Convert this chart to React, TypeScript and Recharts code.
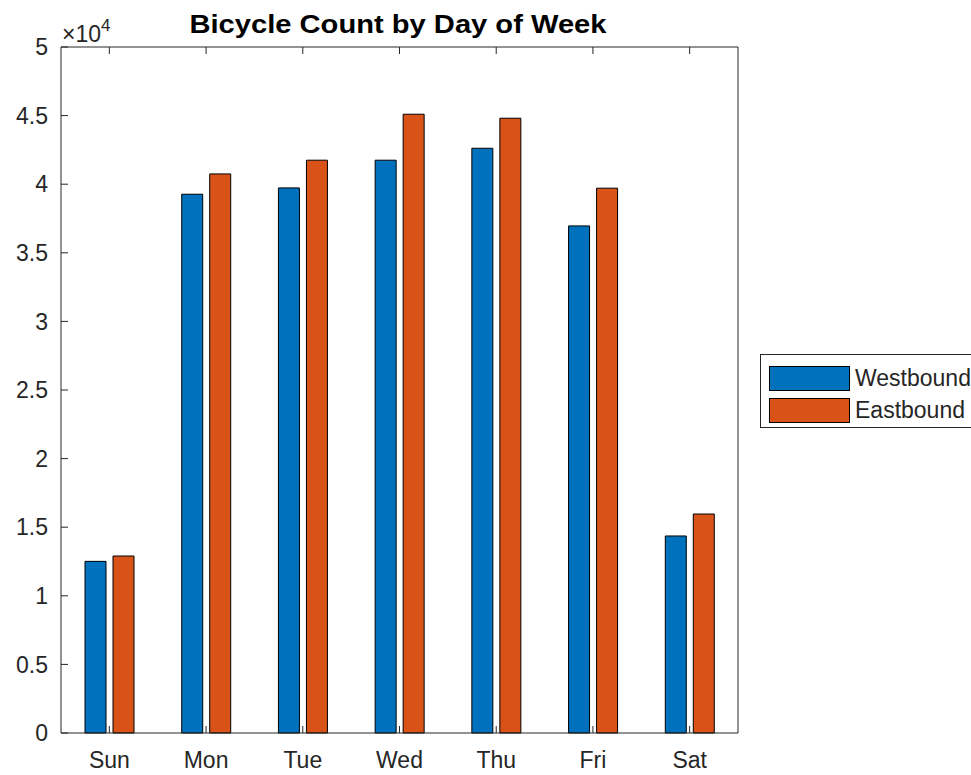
import { Bar, BarChart, XAxis, YAxis, Legend } from "recharts"

const days = ["Sun", "Mon", "Tue", "Wed", "Thu", "Fri", "Sat"]
const westbound = [12510, 39270, 39730, 41750, 42620, 36960, 14360]
const eastbound = [12900, 40750, 41750, 45100, 44810, 39710, 15960]
const seriesNames = ["Westbound", "Eastbound"]
const seriesColors = ["#0072BD", "#D95319"]
const yTicks = [0, 5000, 10000, 15000, 20000, 25000, 30000, 35000, 40000, 45000, 50000]

const AXIS = "#262626"
const FONT = "'Liberation Sans', Arial, Helvetica, sans-serif"

const data = days.map((day, i) => ({
  day,
  Westbound: westbound[i],
  Eastbound: eastbound[i],
}))

function MatlabLegend() {
  return (
    <div
      style={{
        boxSizing: "border-box",
        border: "1px solid #262626",
        background: "#fff",
        padding: "7px 0 0 8px",
        width: 240,
        height: 74,
        fontFamily: FONT,
        fontSize: 23,
        color: "#262626",
      }}
    >
      {seriesNames.map((name, i) => (
        <div key={name} style={{ display: "flex", alignItems: "center", height: 32 }}>
          <span
            style={{
              boxSizing: "border-box",
              display: "inline-block",
              width: 81,
              height: 25,
              background: seriesColors[i],
              border: "1.5px solid #000",
              marginRight: 5,
            }}
          />
          <span style={{ whiteSpace: "nowrap" }}>{name}</span>
        </div>
      ))}
    </div>
  )
}

export default function App() {
  return (
    <div style={{ position: "absolute", left: 0, top: 0, width: 971, height: 775, overflow: "hidden", background: "#fff" }}>
      <BarChart
        width={971}
        height={775}
        data={data}
        margin={{ top: 46, right: 232, bottom: 0, left: 0 }}
        barSize={21}
        barGap={7}
      >
        <XAxis
          dataKey="day"
          height={42}
          stroke={AXIS}
          tickSize={-7}
          tickMargin={26}
          tick={{ fill: AXIS, fontSize: 23, fontFamily: FONT }}
        />
        <XAxis
          xAxisId="top"
          dataKey="day"
          orientation="top"
          height={1}
          stroke={AXIS}
          tickSize={-7}
          tickFormatter={() => ""}
        />
        <YAxis
          width={61}
          domain={[0, 50000]}
          ticks={yTicks}
          interval={0}
          stroke={AXIS}
          tickSize={-7}
          tickMargin={20}
          tickFormatter={(v: number) => `${v / 10000}`}
          tick={{ fill: AXIS, fontSize: 23, fontFamily: FONT }}
        />
        <YAxis
          yAxisId="right"
          orientation="right"
          width={1}
          domain={[0, 50000]}
          ticks={yTicks}
          interval={0}
          stroke={AXIS}
          tickSize={-7}
          tickFormatter={() => ""}
        />
        <Legend
          layout="horizontal"
          verticalAlign="middle"
          align="center"
          content={<MatlabLegend />}
          wrapperStyle={{ left: 760, top: 354, width: 240 }}
        />
        <Bar dataKey="Westbound" fill={seriesColors[0]} stroke="#000" strokeWidth={1} isAnimationActive={false} />
        <Bar dataKey="Eastbound" fill={seriesColors[1]} stroke="#000" strokeWidth={1} isAnimationActive={false} />
        <text
          x={398}
          y={33}
          textAnchor="middle"
          fontFamily={FONT}
          fontWeight="bold"
          fontSize={26}
          textLength={417}
          lengthAdjust="spacingAndGlyphs"
          fill="#000"
        >
          Bicycle Count by Day of Week
        </text>
        <text x={62} y={42} fontFamily={FONT} fontSize={23} fill={AXIS}>
          ×10
          <tspan dy={-11} fontSize={17}>4</tspan>
        </text>
      </BarChart>
    </div>
  )
}
